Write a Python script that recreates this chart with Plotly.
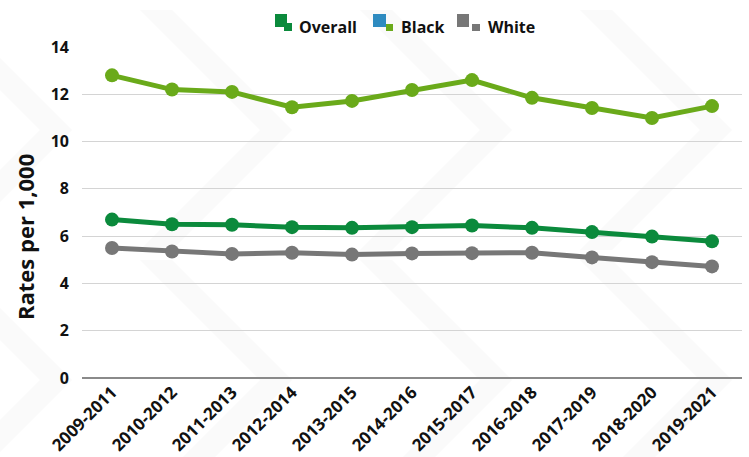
import plotly.graph_objects as go

periods = ["2009-2011", "2010-2012", "2011-2013", "2012-2014", "2013-2015", "2014-2016",
           "2015-2017", "2016-2018", "2017-2019", "2018-2020", "2019-2021"]
overall = [6.7, 6.5, 6.48, 6.38, 6.35, 6.38, 6.45, 6.35, 6.17, 5.98, 5.78]
black = [12.8, 12.2, 12.1, 11.45, 11.72, 12.18, 12.6, 11.85, 11.42, 11.0, 11.5]
white = [5.5, 5.35, 5.25, 5.3, 5.22, 5.27, 5.28, 5.3, 5.1, 4.9, 4.72]
y_ticks = [0, 2, 4, 6, 8, 10, 12, 14]

C_OVERALL = "#0b8a3c"
C_BLACK = "#6aaa1a"
C_BLACK_ICON = "#2e8bc0"
C_WHITE = "#777777"

FONT = "Open Sans"

W, H = 749, 457
L, R, T, B = 82, 7, 47, 79
PW, PH = W - L - R, H - T - B

def px(x):
    return (x - L) / PW

def py(y):
    return (H - B - y) / PH

fig = go.Figure()
for name, vals, col in [("Black", black, C_BLACK), ("Overall", overall, C_OVERALL), ("White", white, C_WHITE)]:
    fig.add_trace(go.Scatter(
        x=periods, y=vals, name=name, mode="lines+markers",
        line=dict(color=col, width=5),
        marker=dict(color=col, size=14),
        showlegend=False,
    ))

shapes = []
# faint background chevron lattice
chev = "#fafafa"
bw = 32
for cy in [-120, 130, 380]:
    for cx in [-80, 140, 360, 580, 800]:
        a = 120
        shapes.append(dict(type="path", xref="paper", yref="paper", layer="below",
                           path=(f"M {px(cx)},{py(cy - a)} L {px(cx + a)},{py(cy)} L {px(cx)},{py(cy + a)} "
                                 f"L {px(cx + bw)},{py(cy + a)} L {px(cx + a + bw)},{py(cy)} L {px(cx + bw)},{py(cy - a)} Z"),
                           fillcolor=chev, line=dict(width=0)))

# legend icons
icons = [
    (275, 14, 287, 27, C_OVERALL, 284, 23, 292, 31, C_OVERALL),
    (373, 14, 386, 27, C_BLACK_ICON, 386, 24, 393, 31, C_BLACK),
    (457, 14, 469, 27, C_WHITE, 472, 24, 480, 31, C_WHITE),
]
for (x0, y0, x1, y1, c1, sx0, sy0, sx1, sy1, c2) in icons:
    shapes.append(dict(type="rect", xref="paper", yref="paper", x0=px(x0), x1=px(x1), y0=py(y1), y1=py(y0),
                       fillcolor=c1, line=dict(width=0)))
    shapes.append(dict(type="rect", xref="paper", yref="paper", x0=px(sx0), x1=px(sx1), y0=py(sy1), y1=py(sy0),
                       fillcolor=c2, line=dict(width=0)))

annotations = []
for text, x in [("Overall", 297), ("Black", 399), ("White", 486)]:
    annotations.append(dict(text=text, xref="paper", yref="paper", x=px(x), y=py(27),
                            xanchor="left", yanchor="middle", showarrow=False,
                            font=dict(family=FONT, size=16, color="#111111", weight="bold")))
annotations.append(dict(text="Rates per 1,000", xref="paper", yref="paper", x=px(25), y=py(237),
                        xanchor="center", yanchor="middle", showarrow=False, textangle=-90,
                        font=dict(family=FONT, size=22, color="#111111", weight="bold")))

fig.update_layout(
    width=W, height=H,
    margin=dict(l=L, r=R, t=T, b=B),
    paper_bgcolor="white", plot_bgcolor="rgba(0,0,0,0)",
    font=dict(family=FONT, color="#111111"),
    shapes=shapes, annotations=annotations,
    showlegend=False,
)
fig.update_xaxes(
    type="category", range=[-0.5, 10.5], showgrid=False, ticks="",
    tickangle=-45, tickfont=dict(family=FONT, size=17, color="#111111", weight="bold"),
    showline=False, zeroline=False, automargin=False,
)
fig.update_yaxes(
    range=[0, 14], tickvals=y_ticks, showgrid=True, gridcolor="#d4d4d4", gridwidth=1,
    zeroline=True, zerolinecolor="#8a8a8a", zerolinewidth=1.5,
    ticks="", ticklabelstandoff=12, automargin=False,
    tickfont=dict(family=FONT, size=16, color="#111111", weight="bold"),
)

fig.write_html("out.html")
